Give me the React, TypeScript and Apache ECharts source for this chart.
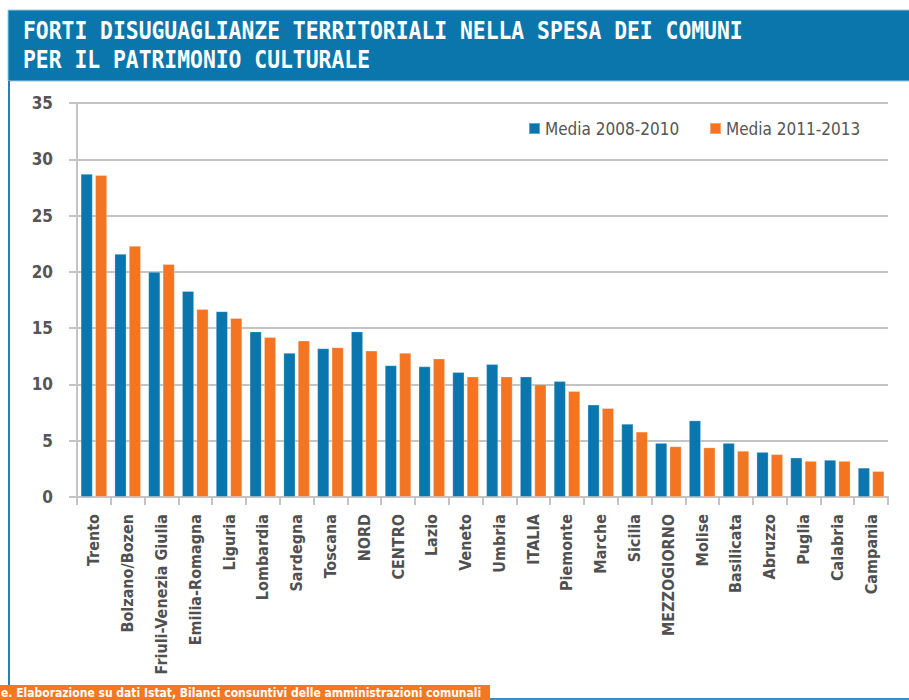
import React, { useEffect, useRef } from "react";
import * as echarts from "echarts";

const categories = [
  "Trento", "Bolzano/Bozen", "Friuli-Venezia Giulia", "Emilia-Romagna", "Liguria",
  "Lombardia", "Sardegna", "Toscana", "NORD", "CENTRO", "Lazio", "Veneto", "Umbria",
  "ITALIA", "Piemonte", "Marche", "Sicilia", "MEZZOGIORNO", "Molise", "Basilicata",
  "Abruzzo", "Puglia", "Calabria", "Campania",
];
const media0810 = [28.7, 21.6, 20.0, 18.3, 16.5, 14.7, 12.8, 13.2, 14.7, 11.7, 11.6, 11.1, 11.8, 10.7, 10.3, 8.2, 6.5, 4.8, 6.8, 4.8, 4.0, 3.5, 3.3, 2.6];
const media1113 = [28.6, 22.3, 20.7, 16.7, 15.9, 14.2, 13.9, 13.3, 13.0, 12.8, 12.3, 10.7, 10.7, 10.0, 9.4, 7.9, 5.8, 4.5, 4.4, 4.1, 3.8, 3.2, 3.2, 2.3];
const seriesNames = ["Media 2008-2010", "Media 2011-2013"];
const titleLines = [
  "FORTI DISUGUAGLIANZE TERRITORIALI NELLA SPESA DEI COMUNI",
  "PER IL PATRIMONIO CULTURALE",
];
const sourceText = "e. Elaborazione su dati Istat, Bilanci consuntivi delle amministrazioni comunali";

const BLUE = "#0a76ad";
const ORANGE = "#f37521";
const GRID = "#c4c4c4";
const NARROW = "'DejaVu Sans Condensed', 'Liberation Sans Narrow', sans-serif";

export default function App() {
  const ref = useRef<HTMLDivElement>(null);
  useEffect(() => {
    if (!ref.current) return;
    const chart = echarts.init(ref.current, null, { renderer: "svg", width: 909, height: 700 });
    const legendText = { fontFamily: NARROW, fontSize: 17, color: "#555555" };
    chart.setOption({
      animation: false,
      backgroundColor: "#ffffff",
      grid: { left: 77, right: 21, top: 103, bottom: 203, containLabel: false },
      legend: [
        {
          data: [seriesNames[0]],
          left: 523,
          top: 115,
          icon: "rect",
          itemWidth: 11,
          itemHeight: 11,
          textStyle: legendText,
        },
        {
          data: [seriesNames[1]],
          left: 704,
          top: 115,
          icon: "rect",
          itemWidth: 11,
          itemHeight: 11,
          textStyle: legendText,
        },
      ],
      xAxis: {
        type: "category",
        data: categories,
        axisLine: { lineStyle: { color: GRID, width: 2 } },
        axisTick: { show: true, length: 8, lineStyle: { color: GRID, width: 2 } },
        axisLabel: {
          rotate: 90,
          interval: 0,
          margin: 17,
          fontFamily: NARROW,
          fontWeight: "bold",
          fontSize: 16,
          color: "#505050",
        },
      },
      yAxis: {
        type: "value",
        min: 0,
        max: 35,
        interval: 5,
        axisLine: { show: true, lineStyle: { color: GRID, width: 2 } },
        axisTick: { show: true, length: 8, lineStyle: { color: GRID, width: 2 } },
        splitLine: { lineStyle: { color: GRID, width: 2 } },
        axisLabel: {
          margin: 24,
          fontFamily: NARROW,
          fontWeight: "bold",
          fontSize: 17,
          color: "#555555",
        },
      },
      series: [
        {
          name: seriesNames[0],
          type: "bar",
          data: media0810,
          barWidth: 12,
          barGap: "20%",
          itemStyle: { color: BLUE, borderColor: "rgba(255,255,255,0.35)", borderWidth: 0.8 },
        },
        {
          name: seriesNames[1],
          type: "bar",
          data: media1113,
          barWidth: 12,
          barGap: "20%",
          itemStyle: { color: ORANGE, borderColor: "rgba(255,255,255,0.35)", borderWidth: 0.8 },
        },
      ],
      graphic: [
        {
          type: "rect",
          shape: { x: 8, y: 10, width: 920, height: 71, r: [0, 16, 0, 0] },
          style: { fill: "#0a76ab", stroke: "#9cc9e0", lineWidth: 1 },
          z: 10,
        },
        {
          type: "text",
          x: 23,
          y: 30.5,
          scaleX: 0.89,
          style: {
            text: titleLines[0],
            fill: "#ffffff",
            fontFamily: "'DejaVu Sans Mono', monospace",
            fontWeight: "bold",
            fontSize: 24,
            verticalAlign: "middle",
            align: "left",
          },
          z: 11,
        },
        {
          type: "text",
          x: 23,
          y: 59.5,
          scaleX: 0.89,
          style: {
            text: titleLines[1],
            fill: "#ffffff",
            fontFamily: "'DejaVu Sans Mono', monospace",
            fontWeight: "bold",
            fontSize: 24,
            verticalAlign: "middle",
            align: "left",
          },
          z: 11,
        },
        {
          type: "line",
          shape: { x1: 9, y1: 81, x2: 9, y2: 686 },
          style: { stroke: "#1b84ba", lineWidth: 2 },
          z: 10,
        },
        {
          type: "line",
          shape: { x1: 488, y1: 699, x2: 909, y2: 699 },
          style: { stroke: "#3b8fc0", lineWidth: 2 },
          z: 10,
        },
        {
          type: "rect",
          shape: { x: 0, y: 685, width: 490, height: 15 },
          style: { fill: "#f47721" },
          z: 10,
        },
        {
          type: "text",
          x: 1,
          y: 693,
          style: {
            text: sourceText,
            fill: "#ffffff",
            fontFamily: NARROW,
            fontWeight: "bold",
            fontSize: 12,
            verticalAlign: "middle",
            align: "left",
          },
          z: 11,
        },
      ],
    });
    return () => chart.dispose();
  }, []);
  return (
    <div
      ref={ref}
      style={{ position: "fixed", left: 0, top: 0, width: 909, height: 700 }}
    />
  );
}
